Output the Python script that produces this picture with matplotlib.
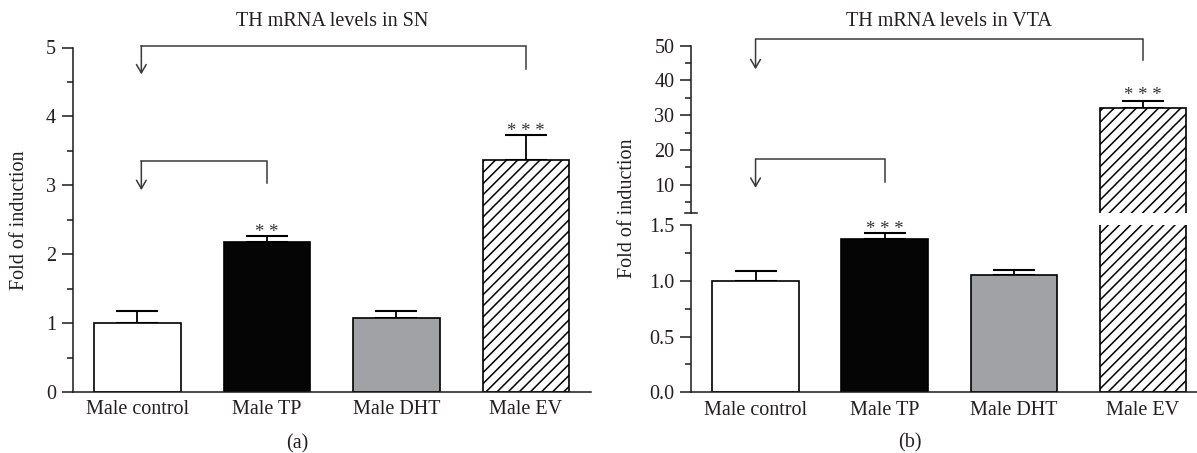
import matplotlib
matplotlib.use("Agg")
import matplotlib.pyplot as plt
from matplotlib.ticker import MultipleLocator, FixedLocator, FormatStrFormatter

# ---------------- data ----------------
categories = ['Male control', 'Male TP', 'Male DHT', 'Male EV']
sn_means = [1.00, 2.18, 1.07, 3.36]
sn_err = [0.17, 0.08, 0.10, 0.37]
sn_stars = ['', '* *', '', '* * *']
vta_means = [1.00, 1.38, 1.05, 32.1]
vta_err = [0.09, 0.05, 0.045, 2.0]
vta_stars = ['', '* * *', '', '* * *']

face_colors = ['white', '#050505', '#a1a2a5', 'white']
hatches = ['', '', '', '///']

TXT = '#231f20'
LINE = '#1a1a1a'
BRK = '#3a3a3a'

plt.rcParams['font.family'] = ['Liberation Serif', 'DejaVu Serif']
plt.rcParams['hatch.linewidth'] = 1.1
plt.rcParams['hatch.color'] = 'black'

W, H = 1197, 453
fig = plt.figure(figsize=(W / 100, H / 100), dpi=100)


def fx(px):
    return px / W


def fy(py):
    return 1 - py / H


x = list(range(len(categories)))
BW = 0.67
FS = 14.5
SFS = 13.5


def style_axis(ax, show_bottom=True):
    ax.spines['top'].set_visible(False)
    ax.spines['right'].set_visible(False)
    for s in ['left', 'bottom']:
        ax.spines[s].set_linewidth(1.1)
        ax.spines[s].set_color(LINE)
    if not show_bottom:
        ax.spines['bottom'].set_visible(False)
        ax.tick_params(axis='x', which='both', bottom=False, labelbottom=False)
    else:
        ax.set_xticks(x)
        ax.set_xticklabels(categories, fontsize=FS, color=TXT)
        ax.tick_params(axis='x', which='both', length=0, pad=6)
    ax.tick_params(axis='y', which='major', direction='out', length=8, width=1.1,
                   color=LINE, labelsize=FS, labelcolor=TXT, pad=4)
    ax.tick_params(axis='y', which='minor', direction='out', length=4.5, width=1.1,
                   color=LINE)
    ax.set_xlim(-0.5, 3.5)
    ax.patch.set_alpha(0)


def draw_bars(ax, means, errs, bar_idx, err_idx):
    for i in bar_idx:
        ax.bar(x[i], means[i], width=BW, color=face_colors[i], edgecolor='black',
               linewidth=1.2, hatch=hatches[i] or None, zorder=2)
    ex = [x[i] for i in err_idx]
    ey = [means[i] for i in err_idx]
    ee = [errs[i] for i in err_idx]
    ax.errorbar(ex, ey, yerr=[[0] * len(ee), ee], fmt='none',
                ecolor='black', elinewidth=1.3, capsize=15, capthick=1.5, zorder=1)


def stars(ax, xi, top, s):
    ax.annotate(s, xy=(xi, top), xytext=(0, -0.5), textcoords='offset points',
                ha='center', va='baseline', fontsize=SFS, color='#333333',
                annotation_clip=False)


def bracket(ax, x0, x1, top, tip, right_end):
    ax.plot([x0, x1, x1], [top, top, right_end], color=BRK, lw=1.1,
            clip_on=False, solid_joinstyle='miter')
    ax.annotate('', xy=(x0, tip), xytext=(x0, top),
                arrowprops=dict(arrowstyle='->,head_length=0.6,head_width=0.35',
                                color=BRK, lw=1.1, shrinkA=0, shrinkB=0),
                annotation_clip=False)


# ---------------- panel (a) ----------------
axa = fig.add_axes([fx(72.7), fy(392), fx(590.7) - fx(72.7), fy(47.5) - fy(392)])
draw_bars(axa, sn_means, sn_err, [0, 1, 2, 3], [0, 1, 2, 3])
style_axis(axa)
axa.set_ylim(0, 5)
axa.yaxis.set_major_locator(MultipleLocator(1))
axa.yaxis.set_minor_locator(MultipleLocator(0.5))
axa.yaxis.set_major_formatter(FormatStrFormatter('%d'))
for i, s in enumerate(sn_stars):
    if s:
        stars(axa, x[i], sn_means[i] + sn_err[i], s)
bracket(axa, 0.03, 3, 5.02, 4.61, 4.69)
bracket(axa, 0.03, 1, 3.35, 2.93, 3.03)

# ---------------- panel (b) ----------------
left_b = 691
right_b = 691 + 4 * 129.1
axb_lo = fig.add_axes([fx(left_b), fy(392.3), fx(right_b) - fx(left_b), fy(225.3) - fy(392.3)])
axb_hi = fig.add_axes([fx(left_b), fy(212.5), fx(right_b) - fx(left_b), fy(45.7) - fy(212.5)])

draw_bars(axb_lo, vta_means, vta_err, [0, 1, 2, 3], [0, 1, 2])
draw_bars(axb_hi, vta_means, vta_err, [3], [3])
style_axis(axb_lo)
style_axis(axb_hi, show_bottom=False)

axb_lo.set_ylim(0, 1.5)
axb_lo.yaxis.set_major_locator(MultipleLocator(0.5))
axb_lo.yaxis.set_minor_locator(MultipleLocator(0.25))
axb_lo.yaxis.set_major_formatter(FormatStrFormatter('%.1f'))

axb_hi.set_ylim(2, 50)
axb_hi.yaxis.set_major_locator(FixedLocator([10, 20, 30, 40, 50]))
axb_hi.yaxis.set_minor_locator(FixedLocator([5, 15, 25, 35, 45]))
axb_hi.yaxis.set_major_formatter(FormatStrFormatter('%d'))
axb_hi.plot([-0.012, 0.012], [0, 0], transform=axb_hi.transAxes, color=LINE,
            lw=1.1, clip_on=False)

stars(axb_lo, x[1], vta_means[1] + vta_err[1], vta_stars[1])
stars(axb_hi, x[3], vta_means[3] + vta_err[3] + 0.6, vta_stars[3])
bracket(axb_hi, 0, 3, 51.9, 43.2, 45.9)
bracket(axb_hi, 0, 1, 17.4, 9.1, 10.9)

# ---------------- texts ----------------
fig.text(fx(331.7), fy(22), 'TH mRNA levels in SN', ha='center', va='center',
         fontsize=FS, color=TXT)
fig.text(fx(949), fy(21), 'TH mRNA levels in VTA', ha='center', va='center',
         fontsize=FS, color=TXT)
fig.text(fx(20), fy(220), 'Fold of induction', rotation=90, ha='center',
         va='center', fontsize=FS, color=TXT)
fig.text(fx(627), fy(208), 'Fold of induction', rotation=90, ha='center',
         va='center', fontsize=FS, color=TXT)
fig.text(fx(297), fy(444), '(a)', ha='center', va='center', fontsize=FS, color=TXT)
fig.text(fx(910), fy(443), '(b)', ha='center', va='center', fontsize=FS, color=TXT)

fig.savefig('out.png', dpi=100, facecolor='white')
